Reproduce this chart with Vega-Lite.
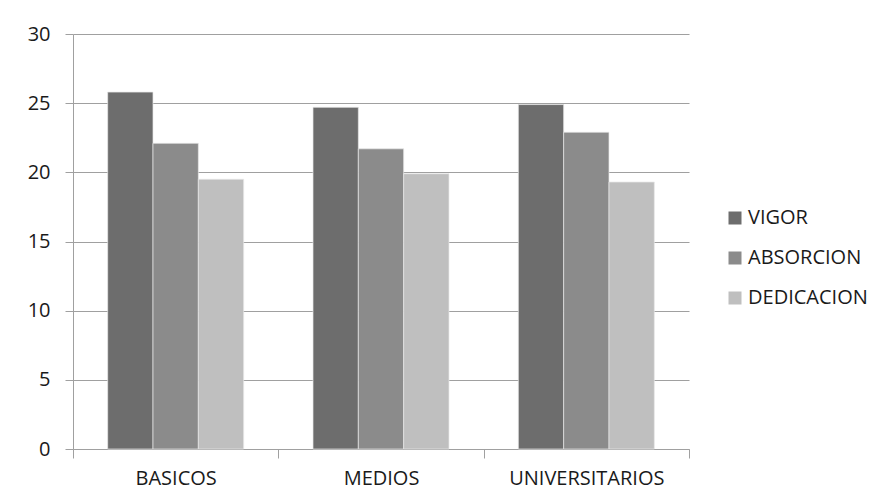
{
  "$schema": "https://vega.github.io/schema/vega-lite/v6.json",
  "autosize": {"type": "none"},
  "width": 616,
  "height": 415,
  "padding": {"left": 73, "top": 34, "right": 202, "bottom": 55},
  "background": "white",
  "data": {
    "values": [
      {"nivel": "BASICOS", "dimension": "VIGOR", "valor": 25.8},
      {"nivel": "BASICOS", "dimension": "ABSORCION", "valor": 22.1},
      {"nivel": "BASICOS", "dimension": "DEDICACION", "valor": 19.5},
      {"nivel": "MEDIOS", "dimension": "VIGOR", "valor": 24.7},
      {"nivel": "MEDIOS", "dimension": "ABSORCION", "valor": 21.7},
      {"nivel": "MEDIOS", "dimension": "DEDICACION", "valor": 19.9},
      {"nivel": "UNIVERSITARIOS", "dimension": "VIGOR", "valor": 24.9},
      {"nivel": "UNIVERSITARIOS", "dimension": "ABSORCION", "valor": 22.9},
      {"nivel": "UNIVERSITARIOS", "dimension": "DEDICACION", "valor": 19.3}
    ]
  },
  "mark": {"type": "bar", "stroke": "#e8e8e8", "strokeWidth": 0.7},
  "encoding": {
    "x": {
      "field": "nivel",
      "type": "nominal",
      "sort": ["BASICOS", "MEDIOS", "UNIVERSITARIOS"],
      "scale": {"paddingInner": 0, "paddingOuter": 0},
      "axis": {
        "title": null,
        "labelAngle": 0,
        "tickBand": "extent",
        "tickSize": 9,
        "tickColor": "#a0a0a0",
        "domainColor": "#a0a0a0",
        "labelPadding": 10,
        "labelFont": "Open Sans",
        "labelFontSize": 20,
        "labelColor": "#1a1a1a"
      }
    },
    "xOffset": {
      "field": "dimension",
      "sort": ["VIGOR", "ABSORCION", "DEDICACION"],
      "scale": {"paddingInner": 0, "paddingOuter": 0.765}
    },
    "y": {
      "field": "valor",
      "type": "quantitative",
      "scale": {"domain": [0, 30], "nice": false},
      "axis": {
        "title": null,
        "values": [0, 5, 10, 15, 20, 25, 30],
        "grid": true,
        "gridColor": "#a0a0a0",
        "gridWidth": 1.2,
        "domain": true,
        "domainColor": "#a0a0a0",
        "tickColor": "#a0a0a0",
        "tickSize": 8,
        "labelPadding": 15,
        "labelFont": "Open Sans",
        "labelFontSize": 20,
        "labelColor": "#1a1a1a"
      }
    },
    "color": {
      "field": "dimension",
      "type": "nominal",
      "sort": ["VIGOR", "ABSORCION", "DEDICACION"],
      "scale": {
        "domain": ["VIGOR", "ABSORCION", "DEDICACION"],
        "range": ["#6d6d6d", "#8b8b8b", "#bfbfbf"]
      },
      "legend": {
        "title": null,
        "orient": "none",
        "legendX": 652,
        "legendY": 174,
        "symbolType": "square",
        "symbolSize": 169,
        "symbolStrokeWidth": 0,
        "labelFont": "Open Sans",
        "labelFontSize": 20,
        "labelColor": "#1a1a1a",
        "rowPadding": 20,
        "labelOffset": 3
      }
    }
  },
  "config": {
    "view": {"stroke": null},
    "axis": {"labelFontWeight": "normal"}
  }
}
